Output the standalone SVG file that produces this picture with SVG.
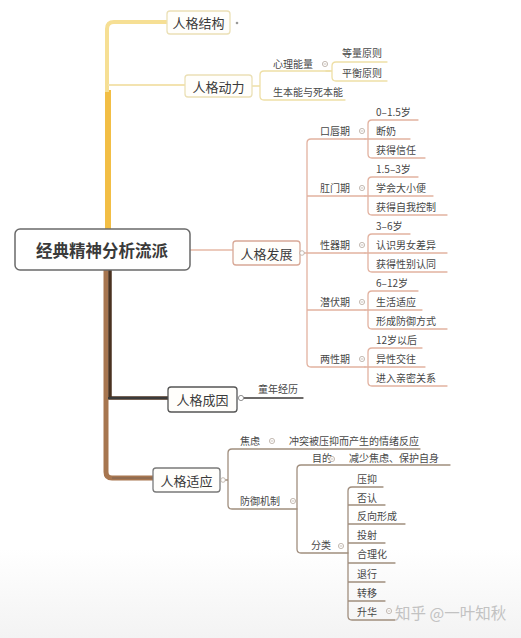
<svg xmlns="http://www.w3.org/2000/svg" width="521" height="638" viewBox="0 0 521 638">
<defs>
<linearGradient id="bg" x1="0" y1="0" x2="0" y2="1">
<stop offset="0" stop-color="#ffffff"/>
<stop offset="0.86" stop-color="#ffffff"/>
<stop offset="1" stop-color="#f3f3f3"/>
</linearGradient>
<style>
text{font-family:"Noto Sans CJK SC","Noto Sans",sans-serif;dominant-baseline:central;fill:#3a3a3a}
.s{font-size:10px;fill:#474747}
.b{font-size:13px;text-anchor:middle}
.box{fill:#fffefb;stroke-width:1.3}
.ln{fill:none;stroke-width:1.3;stroke-linecap:round}
.y{stroke:#eedfa6}
.r{stroke:#e2b2a0}
.k{stroke:#3d3a38}
.g{stroke:#a08e7e}
.col{fill:#fff;stroke:#b5aaa0;stroke-width:0.8}
</style>
<g id="minus"><circle class="col" r="2.6"/><path d="M-1.4,0 H1.4" stroke="#b5aaa0" stroke-width="0.7"/></g>
</defs>
<rect width="521" height="638" fill="url(#bg)"/>

<g id="connectors">
<!-- trunk -->
<path d="M108,229 V90" stroke="#f2be45" stroke-width="6" fill="none"/>
<path d="M167,22 H114 Q107,22 107,29 V92" stroke="#f6df94" stroke-width="4" fill="none"/>
<path d="M108,85 H185" stroke="#f3e3b0" stroke-width="2" fill="none"/>
<path d="M106,270 V472 Q106,478 112,478 H154" stroke="#a77650" stroke-width="5" fill="none"/>
<path d="M110,270 V398 H168" stroke="#4a3220" stroke-width="3.5" fill="none"/>
<path d="M108,398 H168" stroke="#3a3a3a" stroke-width="2" fill="none"/>
<path d="M112,478 H154" stroke="#8a6a52" stroke-width="1.6" fill="none"/>
<path d="M190,250 H233" stroke="#e6b8a6" stroke-width="1.6" fill="none"/>

<!-- 人格动力 -->
<path class="ln y" d="M252,86 H260 M330,71 H264 Q260,71 260,75 V96 Q260,100 264,100 H345"/>
<path class="ln y" d="M326,71 H332 M387,62 H336 Q332,62 332,66 V77 Q332,81 336,81 H387"/>

<!-- 人格发展 -->
<path class="ln r" d="M300,253 H307 M365,139 H311 Q307,139 307,143 V363 Q307,367 311,367 H365 M307,196 H365 M307,253 H365 M307,310 H365"/>
<path class="ln r" d="M418,120 H372 Q368,120 368,124 V154 Q368,158 372,158 H425 M365,139 H410"/>
<path class="ln r" d="M418,177 H372 Q368,177 368,181 V211 Q368,215 372,215 H447 M365,196 H433"/>
<path class="ln r" d="M410,234 H372 Q368,234 368,238 V268 Q368,272 372,272 H447 M365,253 H447"/>
<path class="ln r" d="M418,291 H372 Q368,291 368,295 V325 Q368,329 372,329 H447 M365,310 H422"/>
<path class="ln r" d="M422,348 H372 Q368,348 368,352 V382 Q368,386 372,386 H447 M365,367 H425"/>

<!-- 人格成因 -->
<path class="ln k" d="M244,398 H303"/>

<!-- 人格适应 -->
<path class="ln g" d="M220,480 H228 M420,449 H232 Q228,449 228,453 V505 Q228,509 232,509 H297"/>
<path class="ln g" d="M450,465 H301 Q297,465 297,469 V549 Q297,553 301,553 H348"/>
<path class="ln g" d="M383,487 H352 Q348,487 348,491 V616 Q348,620 352,620 H395 M348,505 H385 M348,524 H405 M348,543 H385 M348,563 H395 M348,582 H385 M348,601 H385"/>
</g>

<g id="root">
<rect x="15" y="229" width="175" height="41" rx="5" fill="#fff" stroke="#6a6a6a" stroke-width="1.5"/>
<text x="102" y="250" font-size="16.5" font-weight="bold" text-anchor="middle" fill="#222">经典精神分析流派</text>
</g>

<g id="n-structure">
<rect class="box" x="167" y="11" width="63" height="23" rx="3" stroke="#ebe0b6"/>
<text class="b" x="198.5" y="22.5">人格结构</text>
<circle cx="237" cy="23" r="1.3" fill="#999"/>
</g>

<g id="n-dynamics">
<rect class="box" x="185" y="75" width="67" height="22" rx="3" stroke="#ebe0b6"/>
<text class="b" x="218.5" y="86">人格动力</text>
<text class="s" x="273" y="63">心理能量</text>
<use href="#minus" x="325" y="64"/>
<text class="s" x="342" y="52">等量原则</text>
<text class="s" x="342" y="72">平衡原则</text>
<text class="s" x="273" y="91">生本能与死本能</text>
</g>

<g id="n-development">
<rect class="box" x="233" y="241" width="67" height="24" rx="3" stroke="#d8a896" fill="#fffaf8"/>
<text class="b" x="266.5" y="253">人格发展</text>
<circle class="col" cx="302" cy="253" r="2.3"/>

<text class="s" x="320" y="130">口唇期</text><use href="#minus" x="362" y="131"/>
<text class="s" x="376" y="111">0–1.5岁</text>
<text class="s" x="376" y="130">断奶</text>
<text class="s" x="376" y="149">获得信任</text>

<text class="s" x="320" y="187">肛门期</text><use href="#minus" x="362" y="188"/>
<text class="s" x="376" y="168">1.5–3岁</text>
<text class="s" x="376" y="187">学会大小便</text>
<text class="s" x="376" y="206">获得自我控制</text>

<text class="s" x="320" y="244">性器期</text><use href="#minus" x="362" y="245"/>
<text class="s" x="376" y="225">3–6岁</text>
<text class="s" x="376" y="244">认识男女差异</text>
<text class="s" x="376" y="263">获得性别认同</text>

<text class="s" x="320" y="301">潜伏期</text><use href="#minus" x="362" y="302"/>
<text class="s" x="376" y="282">6–12岁</text>
<text class="s" x="376" y="301">生活适应</text>
<text class="s" x="376" y="320">形成防御方式</text>

<text class="s" x="320" y="358">两性期</text><use href="#minus" x="362" y="359"/>
<text class="s" x="376" y="339">12岁以后</text>
<text class="s" x="376" y="358">异性交往</text>
<text class="s" x="376" y="377">进入亲密关系</text>
</g>

<g id="n-cause">
<rect class="box" x="168" y="387" width="69" height="25" rx="3" stroke="#555" fill="#fff"/>
<text class="b" x="202.5" y="399.5">人格成因</text>
<circle class="col" cx="241" cy="398" r="2.6" style="stroke:#777"/>
<text class="s" x="258" y="388">童年经历</text>
</g>

<g id="n-adapt">
<rect class="box" x="153" y="468" width="67" height="24" rx="3" stroke="#7a7a7a" fill="#fff"/>
<text class="b" x="186.5" y="480">人格适应</text>
<circle class="col" cx="223" cy="480" r="2.3"/>

<text class="s" x="240" y="440">焦虑</text><use href="#minus" x="272" y="441"/>
<text class="s" x="289" y="440">冲突被压抑而产生的情绪反应</text>

<text class="s" x="240" y="500">防御机制</text><use href="#minus" x="293" y="501"/>
<text class="s" x="312" y="457">目的</text><use href="#minus" x="332" y="459"/>
<text class="s" x="349" y="457">减少焦虑、保护自身</text>

<text class="s" x="311" y="544">分类</text><use href="#minus" x="341" y="546"/>
<text class="s" x="357" y="478">压抑</text>
<text class="s" x="357" y="497">否认</text>
<text class="s" x="357" y="515">反向形成</text>
<text class="s" x="357" y="534">投射</text>
<text class="s" x="357" y="553">合理化</text>
<text class="s" x="357" y="573">退行</text>
<text class="s" x="357" y="592">转移</text>
<text class="s" x="357" y="611">升华</text>
<use href="#minus" x="389" y="611"/>
</g>

<text x="395" y="612" font-size="15.5" style="fill:#c2c2c2">知乎 @一叶知秋</text>
</svg>
